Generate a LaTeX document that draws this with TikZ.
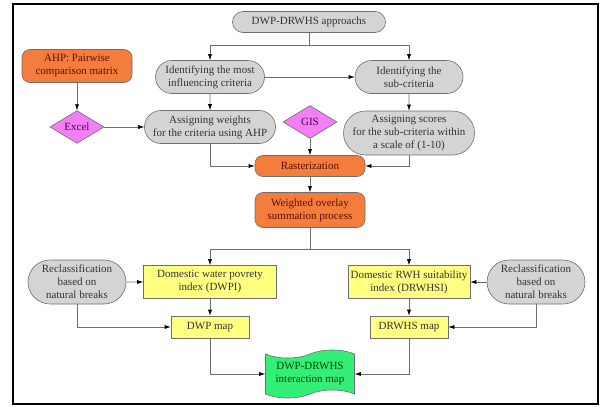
\documentclass[tikz,border=0pt]{standalone}
\usepackage{fontspec}
\setmainfont{Liberation Serif}
\usetikzlibrary{shapes.misc,shapes.geometric,shapes.symbols,arrows.meta}
\definecolor{grayfill}{HTML}{D4D4D4}
\definecolor{grayline}{HTML}{6E6E6E}
\definecolor{orng}{HTML}{F47C3C}
\definecolor{orngtext}{HTML}{5A1000}
\definecolor{pink}{HTML}{F47EF4}
\definecolor{pinktext}{HTML}{50005A}
\definecolor{yelw}{HTML}{FFFF80}
\definecolor{grn}{HTML}{33EE77}
\tikzset{
  box/.style={draw=grayline,line width=0.6pt,align=center,inner sep=1pt,font=\fontsize{11}{13}\selectfont},
  graybox/.style={box,rounded rectangle,fill=grayfill,text=black!80},
  orngbox/.style={box,rectangle,rounded corners=8pt,fill=orng,text=orngtext},
  diabox/.style={box,diamond,fill=pink,text=pinktext,inner sep=0pt},
  yelbox/.style={box,rectangle,fill=yelw,text=black!80},
  mapbox/.style={box,tape,fill=grn,text=black!75!green,tape bend height=8pt},
  arr/.style={draw=grayline,line width=0.6pt,-{Latex[black,length=6pt,width=4pt]}},
  ln/.style={draw=grayline,line width=0.6pt}
}
\begin{document}
\begin{tikzpicture}[x=1pt,y=-1pt]
\useasboundingbox (0,0) rectangle (603,407);
\draw[line width=1.8pt] (13,4) rectangle (598,404);
% top part
\node[graybox,minimum width=155pt,minimum height=21pt] (top) at (309,22) {DWP-DRWHS approachs};
\node[graybox,minimum width=111pt,minimum height=33pt] (crit) at (210,77) {Identifying the most\\influencing criteria};
\node[graybox,minimum width=110pt,minimum height=33pt] (sub) at (409,77) {Identifying the\\sub-criteria};
\node[orngbox,minimum width=110pt,minimum height=33pt] (ahp) at (77,66) {AHP: Pairwise\\comparison matrix};
\node[diabox,minimum width=54pt,minimum height=31pt] (excel) at (77,127) {Excel};
\node[graybox,minimum width=133pt,minimum height=33pt] (wgt) at (210,127) {Assigning weights\\for the criteria using AHP};
\node[diabox,minimum width=54pt,minimum height=33pt] (gis) at (310,122) {GIS};
\node[graybox,minimum width=133pt,minimum height=44pt] (score) at (409,133) {Assigning scores\\for the sub-criteria within\\a scale of (1-10)};
% middle
\node[orngbox,minimum width=110pt,minimum height=21pt] (rast) at (310,166) {Rasterization};
\node[orngbox,minimum width=110pt,minimum height=35pt] (wos) at (310,210) {Weighted overlay\\summation process};
% bottom part
\node[yelbox,minimum width=133pt,minimum height=33pt] (dwpi) at (210,282) {Domestic water povrety\\index (DWPI)};
\node[yelbox,minimum width=122pt,minimum height=33pt] (drwhsi) at (409,282) {Domestic RWH suitability\\index (DRWHSI)};
\node[graybox,minimum width=100pt,minimum height=44pt] (reclL) at (77,282) {Reclassification\\based on\\natural breaks};
\node[graybox,minimum width=100pt,minimum height=44pt] (reclR) at (536,282) {Reclassification\\based on\\natural breaks};
\node[yelbox,minimum width=78pt,minimum height=22pt] (dwpmap) at (210,327) {DWP map};
\node[yelbox,minimum width=78pt,minimum height=22pt] (drwhsmap) at (409,327) {DRWHS map};
\node[mapbox,minimum width=89pt,minimum height=48pt] (inter) at (310,374) {DWP-DRWHS\\interaction map};
% connectors
\draw[ln] (top.south) -- ++(0,12) coordinate (split1);
\draw[arr] (split1) -| (crit.north);
\draw[arr] (split1) -| (sub.north);
\draw[arr] (crit.east) -- (sub.west);
\draw[arr] (crit) -- (wgt);
\draw[arr] (sub) -- (score);
\draw[arr] (ahp) -- (excel);
\draw[arr] (excel) -- (wgt);
\draw[arr] (wgt.south) |- (rast.west);
\draw[arr] (score.south) |- (rast.east);
\draw[arr] (gis) -- (rast);
\draw[arr] (rast) -- (wos);
\draw[ln] (wos.south) -- ++(0,21) coordinate (split2);
\draw[arr] (split2) -| (dwpi.north);
\draw[arr] (split2) -| (drwhsi.north);
\draw[arr] (reclL) -- (dwpi);
\draw[arr] (reclR) -- (drwhsi);
\draw[arr] (dwpi) -- (dwpmap);
\draw[arr] (drwhsi) -- (drwhsmap);
\draw[arr] (reclL.south) |- (dwpmap.west);
\draw[arr] (reclR.south) |- (drwhsmap.east);
\draw[arr] (dwpmap.south) |- (inter.west);
\draw[arr] (drwhsmap.south) |- (inter.east);
\end{tikzpicture}
\end{document}
